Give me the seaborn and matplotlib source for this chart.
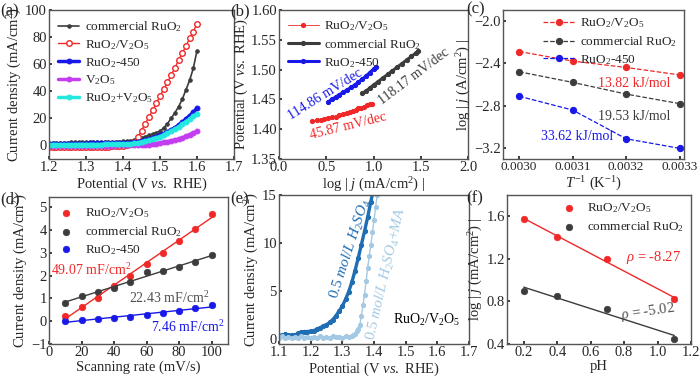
import matplotlib
matplotlib.use("Agg")
import numpy as np
import matplotlib.pyplot as plt
import seaborn as sns

# ---------------- data ----------------
# (a) polarization curves
potential_a = [1.20, 1.21, 1.22, 1.23, 1.24, 1.25, 1.26, 1.27, 1.28, 1.29,
               1.30, 1.31, 1.32, 1.33, 1.34, 1.35, 1.36, 1.37, 1.38, 1.39,
               1.40, 1.41, 1.42, 1.43, 1.44, 1.45, 1.46, 1.47, 1.48, 1.49,
               1.50, 1.51, 1.52, 1.53, 1.54, 1.55, 1.56, 1.57, 1.58, 1.59, 1.60]
j_commercial = [2.0, 2.0, 2.0, 2.1, 2.1, 2.1, 2.2, 2.2, 2.2, 2.3,
                2.3, 2.3, 2.4, 2.4, 2.5, 2.5, 2.6, 2.7, 2.8, 2.9,
                3.0, 3.2, 3.5, 4.0, 4.7, 5.5, 6.5, 7.5, 8.5, 9.5,
                10.5, 13, 16, 20, 24, 28.5, 34, 41, 48, 57, 70]
j_ruo2_v2o5 = [-1.0, -1.0, -1.0, -1.0, -1.0, -1.0, -1.0, -1.0, -1.0, -1.0,
               -1.0, -1.0, -0.9, -0.9, -0.9, -0.8, -0.8, -0.7, -0.6, -0.5,
               -0.3, 0.0, 0.8, 2.5, 6.0, 11, 16, 21, 26, 31,
               36.5, 41.5, 46.5, 52, 57, 63, 68, 73.5, 79, 84, 90]
j_ruo2_450 = [1.3, 1.3, 1.3, 1.3, 1.3, 1.4, 1.4, 1.4, 1.4, 1.4,
              1.4, 1.5, 1.5, 1.5, 1.5, 1.5, 1.5, 1.6, 1.6, 1.6,
              1.7, 1.8, 2.0, 2.3, 2.8, 3.3, 4.0, 4.7, 5.5, 6.5,
              7.5, 8.7, 10, 11.5, 13, 15, 17, 19.5, 22, 24.5, 27.5]
j_v2o5 = [-0.2, -0.2, -0.2, -0.2, -0.2, -0.2, -0.2, -0.2, -0.2, -0.2,
          -0.2, -0.2, -0.1, -0.1, -0.1, -0.1, -0.1, -0.1, 0.0, 0.0,
          0.0, 0.0, 0.0, 0.1, 0.2, 0.3, 0.5, 0.7, 1.0, 1.4,
          1.8, 2.3, 2.8, 3.4, 4.0, 4.7, 5.5, 6.7, 8.0, 9.2, 10.5]
j_mixture = [0.6, 0.6, 0.6, 0.6, 0.6, 0.6, 0.6, 0.7, 0.7, 0.7,
             0.7, 0.7, 0.7, 0.7, 0.7, 0.8, 0.8, 0.8, 0.8, 0.8,
             0.9, 1.0, 1.2, 1.5, 2.0, 2.5, 3.0, 3.7, 4.5, 5.5,
             6.5, 7.7, 9, 10.5, 12, 13.7, 15.5, 17.5, 19.5, 21.5, 23.5]

# (b) Tafel
tafel_x_rv = [0.35, 0.40, 0.44, 0.48, 0.52, 0.56, 0.60, 0.64, 0.68, 0.72,
              0.75, 0.78, 0.81, 0.84, 0.87, 0.90, 0.93, 0.96, 0.98]
tafel_y_rv = [1.414, 1.415, 1.416, 1.417, 1.418, 1.420, 1.421, 1.423, 1.425, 1.427,
              1.429, 1.431, 1.433, 1.435, 1.436, 1.438, 1.440, 1.442, 1.443]
tafel_x_com = [0.88, 0.92, 0.96, 1.00, 1.05, 1.10, 1.15, 1.20, 1.25, 1.30,
               1.35, 1.40, 1.45, 1.475]
tafel_y_com = [1.460, 1.464, 1.469, 1.474, 1.480, 1.486, 1.492, 1.498, 1.504, 1.510,
               1.516, 1.522, 1.528, 1.531]
tafel_x_450 = [0.52, 0.56, 0.60, 0.64, 0.68, 0.72, 0.76, 0.80, 0.84, 0.88,
               0.92, 0.96, 1.00, 1.03]
tafel_y_450 = [1.446, 1.450, 1.454, 1.458, 1.462, 1.466, 1.470, 1.474, 1.479, 1.484,
               1.489, 1.495, 1.501, 1.505]

# (c) Arrhenius
inv_T = [0.0030, 0.0031, 0.0032, 0.0033]
logj_rv = [-2.29, -2.38, -2.44, -2.51]
logj_com = [-2.48, -2.58, -2.69, -2.78]
logj_450 = [-2.71, -2.84, -3.11, -3.20]

# (d) double-layer capacitance
scan_rate = [10, 20, 30, 40, 50, 60, 70, 80, 90, 100]
cdl_rv = [0.25, 0.62, 1.04, 1.54, 2.00, 2.52, 3.00, 3.53, 4.05, 4.71]
cdl_com = [0.82, 1.10, 1.29, 1.44, 1.72, 2.17, 2.21, 2.36, 2.61, 2.90]
cdl_450 = [0.02, 0.06, 0.10, 0.15, 0.19, 0.26, 0.35, 0.45, 0.57, 0.73]

# (e) electrolyte comparison
pot_e1 = [1.10, 1.11, 1.12, 1.13, 1.14, 1.15, 1.16, 1.17, 1.18, 1.19,
          1.20, 1.21, 1.22, 1.23, 1.24, 1.25, 1.26, 1.27, 1.28, 1.29,
          1.30, 1.31, 1.32, 1.33, 1.34, 1.35, 1.36, 1.37, 1.38, 1.39, 1.40]
j_h2so4 = [0.30, 0.40, 0.45, 0.40, 0.35, 0.40, 0.55, 0.70, 0.75, 0.75,
           0.78, 0.85, 1.00, 1.15, 1.30, 1.46, 1.70, 2.00, 2.40, 2.90,
           3.40, 4.10, 4.90, 5.90, 7.10, 8.40, 9.80, 11.2, 12.7, 14.3, 15.9]
pot_e2 = [1.10, 1.11, 1.12, 1.13, 1.14, 1.15, 1.16, 1.17, 1.18, 1.19,
          1.20, 1.21, 1.22, 1.23, 1.24, 1.25, 1.26, 1.27, 1.28, 1.29,
          1.30, 1.31, 1.32, 1.33, 1.335, 1.34, 1.345, 1.35, 1.355, 1.36,
          1.365, 1.37, 1.375, 1.38, 1.385, 1.39, 1.395, 1.40, 1.405, 1.41]
j_h2so4_ma = [0.10, 0.25, 0.10, 0.20, 0.05, 0.15, 0.10, 0.25, 0.10, 0.20,
              0.05, 0.20, 0.10, 0.25, 0.10, 0.20, 0.10, 0.25, 0.15, 0.20,
              0.10, 0.25, 0.20, 0.30, 0.35, 0.50, 0.80, 1.00, 1.40, 2.40,
              3.50, 4.60, 6.00, 7.40, 8.60, 9.80, 11.1, 12.4, 13.7, 15.0]

# (f) pH dependence
ph = [0.2, 0.4, 0.7, 1.1]
logj_ph_rv = [1.57, 1.41, 1.20, 0.82]
logj_ph_com = [0.90, 0.85, 0.73, 0.45]

RV = r"RuO$_2$/V$_2$O$_5$"
COM = r"commercial RuO$_2$"
R450 = r"RuO$_2$-450"

red, gray, blue = "#f02828", "#3c3c3c", "#1818e8"
magenta, cyan = "#c43cf0", "#22e8e0"

# ---------------- style ----------------
sns.set_theme(style="ticks")
plt.rcParams["font.family"] = ["Liberation Serif", "DejaVu Serif"]
plt.rcParams["mathtext.fontset"] = "custom"
plt.rcParams["mathtext.rm"] = "Liberation Serif"
plt.rcParams["mathtext.it"] = "Liberation Serif:italic"
plt.rcParams["axes.edgecolor"] = "#555555"
plt.rcParams["axes.linewidth"] = 1.0
plt.rcParams["xtick.labelsize"] = 10.5
plt.rcParams["ytick.labelsize"] = 10.5
plt.rcParams["axes.labelsize"] = 10.5
plt.rcParams["xtick.direction"] = "in"
plt.rcParams["ytick.direction"] = "in"
plt.rcParams["xtick.major.size"] = 2.5
plt.rcParams["ytick.major.size"] = 2.5
plt.rcParams["xtick.major.pad"] = 1.5
plt.rcParams["ytick.major.pad"] = 1.5

W, H = 700, 378
fig = plt.figure(figsize=(7, 3.78), dpi=100)


def rect(l, t, r, b):
    return [l / W, 1 - b / H, (r - l) / W, (b - t) / H]


def legend(ax, **kw):
    opts = dict(frameon=False, fontsize=9.5, labelspacing=0.3,
                handletextpad=0.4, borderaxespad=0.3)
    opts.update(kw)
    return ax.legend(**opts)


# ---------------- (a) ----------------
ax = fig.add_axes(rect(49, 10, 234, 159))
sns.lineplot(x=potential_a, y=j_commercial, ax=ax, color=gray, marker="o", ms=2.5,
             mec=gray, lw=1.2, estimator=None, label=COM)
sns.lineplot(x=potential_a, y=j_ruo2_v2o5, ax=ax, color=red, marker="o", ms=4,
             mfc="white", mec=red, mew=1, lw=1, estimator=None, label=RV)
sns.lineplot(x=potential_a, y=j_ruo2_450, ax=ax, color=blue, marker="o", ms=3.5,
             mec=blue, lw=2.5, estimator=None, label=R450)
sns.lineplot(x=potential_a, y=j_v2o5, ax=ax, color=magenta, marker="o", ms=3.5,
             mec=magenta, lw=2.5, estimator=None, label=r"V$_2$O$_5$")
sns.lineplot(x=potential_a, y=j_mixture, ax=ax, color=cyan, marker="o", ms=3.5,
             mec=cyan, lw=2.5, estimator=None, label=r"RuO$_2$+V$_2$O$_5$")
ax.set_xlim(1.2, 1.7)
ax.set_ylim(-10, 100)
ax.set_xticks([1.2, 1.3, 1.4, 1.5, 1.6, 1.7])
ax.set_yticks([0, 20, 40, 60, 80, 100])
ax.set_xlabel(r"Potential (V $vs.$ RHE)", labelpad=1)
ax.set_ylabel(r"Current density (mA/cm$^2$)", labelpad=1)
legend(ax, loc="upper left", handlelength=1.6)

# ---------------- (b) ----------------
ax = fig.add_axes(rect(279, 10, 468, 159))
sns.lineplot(x=tafel_x_rv, y=tafel_y_rv, ax=ax, color=red, marker="o", ms=3,
             mec=red, lw=0.6, estimator=None, sort=False, label=RV)
sns.lineplot(x=tafel_x_com, y=tafel_y_com, ax=ax, color=gray, marker="o", ms=3,
             mec=gray, lw=2.2, estimator=None, sort=False, label=COM)
sns.lineplot(x=tafel_x_450, y=tafel_y_450, ax=ax, color=blue, marker="o", ms=3,
             mec=blue, lw=2.2, estimator=None, sort=False, label=R450)
ax.set_xlim(0, 2.0)
ax.set_ylim(1.35, 1.60)
ax.set_xticks([0.0, 0.5, 1.0, 1.5, 2.0])
ax.set_yticks([1.35, 1.40, 1.45, 1.50, 1.55, 1.60])
ax.set_xlabel(r"log | $j$ (mA/cm$^2$) |", labelpad=1)
ax.set_ylabel(r"Potential (V $vs.$ RHE)", labelpad=1)
legend(ax, loc="upper left", handlelength=2.3)
ax.text(0.49, 1.459, "114.86 mV/dec", color=blue, fontsize=10, rotation=32,
        ha="center", va="center")
ax.text(1.43, 1.488, "118.17 mV/dec", color=gray, fontsize=10, rotation=37,
        ha="center", va="center")
ax.text(0.73, 1.405, "45.87 mV/dec", color=red, fontsize=10, rotation=14,
        ha="center", va="center")

# ---------------- (c) ----------------
ax = fig.add_axes(rect(503, 10, 684, 159))
for yv, c, lab in [(logj_rv, red, RV), (logj_com, gray, COM), (logj_450, blue, R450)]:
    sns.lineplot(x=inv_T, y=yv, ax=ax, color=c, marker="o", ms=4.5, mec=c,
                 lw=0.9, linestyle="--", estimator=None, label=lab)
ax.set_xlim(0.00297, 0.003308)
ax.set_ylim(-3.3, -1.9)
ax.set_xticks(inv_T)
ax.set_xticklabels(["0.0030", "0.0031", "0.0032", "0.0033"], fontsize=9.5)
ax.set_yticks([-2.0, -2.4, -2.8, -3.2])
ax.set_xlabel(r"$T^{-1}$ (K$^{-1}$)", labelpad=1)
ax.set_ylabel(r"log | $j$ (A/cm$^2$) |", labelpad=1)
legend(ax, loc="upper right", handlelength=2.4, borderaxespad=0.1)
ax.text(0.003283, -2.595, "13.82 kJ/mol", color=red, fontsize=10, ha="right", va="center")
ax.text(0.003283, -2.905, "19.53 kJ/mol", color=gray, fontsize=10, ha="right", va="center")
ax.text(0.003108, -3.093, "33.62 kJ/mol", color=blue, fontsize=10, ha="center", va="center")

# ---------------- (d) ----------------
ax = fig.add_axes(rect(49, 197, 228, 344))
for yv, c, lab in [(cdl_rv, red, RV), (cdl_com, gray, COM), (cdl_450, blue, R450)]:
    sns.regplot(x=scan_rate, y=yv, ax=ax, ci=None, color=c, label=lab,
                scatter_kws={"s": 22, "edgecolor": c, "linewidths": 0.5, "alpha": 1},
                line_kws={"lw": 1.0})
ax.set_xlim(0, 110)
ax.set_ylim(-1.0, 5.45)
ax.set_xticks([0, 20, 40, 60, 80, 100])
ax.set_yticks([-1, 0, 1, 2, 3, 4, 5])
ax.set_xlabel("Scanning rate (mV/s)", labelpad=1)
ax.set_ylabel(r"Current density (mA/cm$^2$)", labelpad=1)
legend(ax, loc="upper left", handlelength=1.2, handletextpad=0.8)
ax.text(26, 2.24, r"49.07 mF/cm$^2$", color=red, fontsize=10, ha="center", va="center")
ax.text(74, 1.0, r"22.43 mF/cm$^2$", color="#505050", fontsize=10, ha="center", va="center")
ax.text(85, -0.25, r"7.46 mF/cm$^2$", color=blue, fontsize=10, ha="center", va="center")

# ---------------- (e) ----------------
ax = fig.add_axes(rect(279, 195, 469, 344))
dark_blue, light_blue = "#1f6db2", "#a4c9e4"
sns.lineplot(x=pot_e1, y=j_h2so4, ax=ax, color=dark_blue, marker="o", ms=3,
             mec=dark_blue, lw=2.4, estimator=None)
sns.lineplot(x=pot_e2, y=j_h2so4_ma, ax=ax, color=light_blue, marker="o", ms=3,
             mec=light_blue, lw=1.0, estimator=None)
ax.set_xlim(1.1, 1.7)
ax.set_ylim(-0.55, 15)
ax.set_xticks([1.1, 1.2, 1.3, 1.4, 1.5, 1.6, 1.7])
ax.set_yticks([0, 5, 10, 15])
ax.set_xlabel(r"Potential (V $vs.$ RHE)", labelpad=1)
ax.set_ylabel(r"Current density (mA/cm$^2$)", labelpad=1)
ax.text(1.325, 9.4, r"$0.5$ $mol/L$ $H_2SO_4$", color=dark_blue, fontsize=11,
        rotation=72, ha="center", va="center")
ax.text(1.44, 6.76, r"$0.5$ $mol/L$ $H_2SO_4$+$MA$", color=light_blue, fontsize=11,
        rotation=77, ha="center", va="center")
ax.text(1.565, 1.95, RV, color="black", fontsize=10, ha="center", va="center")

# ---------------- (f) ----------------
ax = fig.add_axes(rect(507, 195, 691, 344))
for yv, c, lab in [(logj_ph_rv, red, RV), (logj_ph_com, gray, COM)]:
    sns.regplot(x=ph, y=yv, ax=ax, ci=None, color=c, label=lab,
                scatter_kws={"s": 22, "edgecolor": c, "linewidths": 0.5, "alpha": 1},
                line_kws={"lw": 1.0})
ax.set_xlim(0.1, 1.2)
ax.set_ylim(0.4, 1.8)
ax.set_xticks([0.2, 0.4, 0.6, 0.8, 1.0, 1.2])
ax.set_yticks([0.4, 0.8, 1.2, 1.6])
ax.set_xlabel("pH", labelpad=1)
ax.set_ylabel(r"log | $j$ (mA/cm$^2$) |", labelpad=1)
legend(ax, loc="upper right", handlelength=1.2, handletextpad=0.8, borderaxespad=0.1)
ax.text(0.975, 1.21, r"$\rho$ = -8.27", color=red, fontsize=10.5, ha="center", va="center")
ax.text(0.94, 0.70, r"$\rho$ = -5.02", color="#505050", fontsize=10.5, ha="center",
        va="center", rotation=8)

# panel letters
for lab, x, y in [("(a)", 0, 11), ("(b)", 230, 11), ("(c)", 466, 9),
                  ("(d)", 0, 199), ("(e)", 230, 199), ("(f)", 466, 198)]:
    fig.text(x / W, 1 - y / H, lab, fontsize=12, ha="left", va="center")

fig.savefig("out.png", dpi=100)
